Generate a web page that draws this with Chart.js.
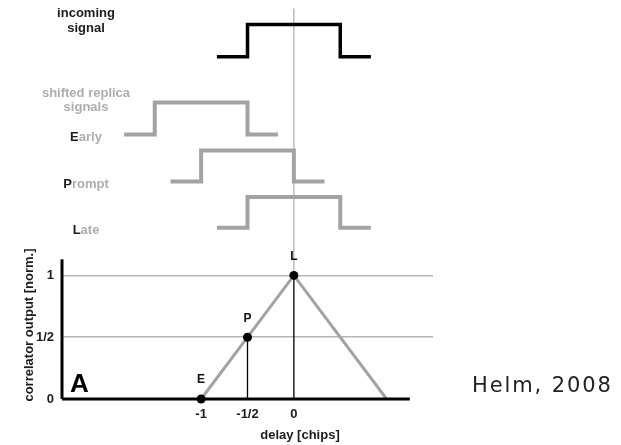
<!DOCTYPE html>
<html>
<head>
<meta charset="utf-8">
<script src="https://cdn.jsdelivr.net/npm/chart.js@4/dist/chart.umd.min.js"></script>
<style>
html,body{margin:0;padding:0;background:#fff;}
#wrap{width:621px;height:445px;position:relative;}
</style>
</head>
<body>
<div id="wrap"><canvas id="c" width="621" height="445"></canvas></div>
<script>
// ---- data ----
const xTickValues = [-1, -0.5, 0];
const xTickLabels = ['-1', '-1/2', '0'];
const yTickValues = [0, 0.5, 1];
const yTickLabels = ['0', '1/2', '1'];

// correlator triangle (delay in chips, normalised output)
const triangleX = [-1, 0, 1];
const triangleY = [0, 1, 0];

// correlator samples E, P, L
const sampleNames = ['E', 'P', 'L'];
const sampleX = [-1, -0.5, 0];
const sampleY = [0, 0.5, 1];

// signal waveforms (x in chips, y in plot units above the correlator)
const incomingX = [-0.83, -0.5, -0.5, 0.5, 0.5, 0.83];
const incomingY = [2.77, 2.77, 3.03, 3.03, 2.77, 2.77];
const earlyX = [-1.83, -1.5, -1.5, -0.5, -0.5, -0.17];
const earlyY = [2.14, 2.14, 2.4, 2.4, 2.14, 2.14];
const promptX = [-1.33, -1.0, -1.0, 0.0, 0.0, 0.33];
const promptY = [1.76, 1.76, 2.01, 2.01, 1.76, 1.76];
const lateX = [-0.83, -0.5, -0.5, 0.5, 0.5, 0.83];
const lateY = [1.385, 1.385, 1.635, 1.635, 1.385, 1.385];

// axis extents and the reference line at zero delay
const xAxisX = [-2.5, 1.25];
const yAxisTop = 1.13;
const refLineTop = 3.16;

const toPts = (xs, ys) => xs.map((x, i) => ({x: x, y: ys[i]}));

const GRAY = '#a3a3a3';
const SANS = '"Liberation Sans", Arial, sans-serif';

const datasets = [
  {label: 'incoming', data: toPts(incomingX, incomingY), borderColor: '#000', borderWidth: 3.5, order: 5},
  {label: 'early', data: toPts(earlyX, earlyY), borderColor: GRAY, borderWidth: 4, order: 5},
  {label: 'prompt', data: toPts(promptX, promptY), borderColor: GRAY, borderWidth: 4, order: 5},
  {label: 'late', data: toPts(lateX, lateY), borderColor: GRAY, borderWidth: 4, order: 5},
  {label: 'ref', data: [{x: 0, y: sampleY[2]}, {x: 0, y: refLineTop}], borderColor: '#9a9a9a', borderWidth: 1, order: 6},
  {label: 'triangle', data: toPts(triangleX, triangleY), borderColor: GRAY, borderWidth: 3, order: 4},
  {label: 'dropP', data: [{x: sampleX[1], y: sampleY[1]}, {x: sampleX[1], y: 0}], borderColor: '#000', borderWidth: 1.3, order: 3},
  {label: 'dropL', data: [{x: sampleX[2], y: sampleY[2]}, {x: sampleX[2], y: 0}], borderColor: '#000', borderWidth: 1.3, order: 3},
  {label: 'xaxis', data: [{x: xAxisX[0], y: 0}, {x: xAxisX[1], y: 0}], borderColor: '#000', borderWidth: 3, order: 2},
  {label: 'yaxis', data: [{x: xAxisX[0], y: 0}, {x: xAxisX[0], y: yAxisTop}], borderColor: '#000', borderWidth: 3, order: 2},
  {label: 'samples', data: toPts(sampleX, sampleY), showLine: false, pointRadius: 4.5, pointBackgroundColor: '#000', pointBorderColor: '#000', pointBorderWidth: 0, order: 1}
];
datasets.forEach(d => {
  d.type = 'line';
  d.fill = false;
  d.clip = false;
  if (d.pointRadius === undefined) d.pointRadius = 0;
  d.tension = 0;
  d.borderCapStyle = 'butt';
  d.borderJoinStyle = 'miter';
});

const textPlugin = {
  id: 'texts',
  afterDatasetsDraw(chart) {
    const ctx = chart.ctx;
    const xs = chart.scales.x, ys = chart.scales.y;
    ctx.save();
    ctx.textBaseline = 'middle';
    ctx.textAlign = 'center';
    ctx.font = 'bold 13px ' + SANS;
    ctx.fillStyle = '#1c1c1c';
    ctx.fillText('incoming', 86, 13);
    ctx.fillText('signal', 86, 28);
    ctx.fillStyle = '#adadad';
    ctx.fillText('shifted replica', 86, 93);
    ctx.fillText('signals', 86, 107);

    // replica labels: first letter dark, rest gray
    const labels = [['E', 'arly', 137], ['P', 'rompt', 184], ['L', 'ate', 230]];
    ctx.textAlign = 'left';
    labels.forEach(([a, b, y]) => {
      const w = ctx.measureText(a + b).width;
      const x0 = 86 - w / 2;
      ctx.fillStyle = '#1c1c1c';
      ctx.fillText(a, x0, y);
      ctx.fillStyle = '#adadad';
      ctx.fillText(b, x0 + ctx.measureText(a).width, y);
    });

    // sample names above the points
    ctx.textAlign = 'center';
    ctx.fillStyle = '#111';
    ctx.font = 'bold 12px ' + SANS;
    sampleNames.forEach((n, i) => {
      ctx.fillText(n, xs.getPixelForValue(sampleX[i]), ys.getPixelForValue(sampleY[i]) - 19);
    });

    // axis titles
    ctx.font = 'bold 13px ' + SANS;
    ctx.fillStyle = '#1c1c1c';
    ctx.fillText('delay [chips]', 300, 435);
    ctx.save();
    ctx.translate(29, 325);
    ctx.rotate(-Math.PI / 2);
    ctx.fillText('correlator output [norm.]', 0, 0);
    ctx.restore();

    // panel letter
    ctx.font = 'bold 26px ' + SANS;
    ctx.fillStyle = '#000';
    ctx.textAlign = 'left';
    ctx.textBaseline = 'alphabetic';
    ctx.fillText('A', 70, 392);

    // citation
    ctx.font = '21px "DejaVu Sans", Verdana, sans-serif';
    ctx.fillStyle = '#222';
    if ('letterSpacing' in ctx) ctx.letterSpacing = '1.9px';
    ctx.fillText('Helm, 2008', 472, 392);
    ctx.restore();
  }
};

new Chart(document.getElementById('c'), {
  type: 'line',
  data: {datasets: datasets},
  options: {
    responsive: false,
    animation: false,
    events: [],
    layout: {padding: {top: 0, right: 188, bottom: 0, left: 0}},
    plugins: {legend: {display: false}, tooltip: {enabled: false}},
    scales: {
      x: {
        type: 'linear',
        min: -2.5,
        max: 1.5,
        afterBuildTicks: s => { s.ticks = xTickValues.map(v => ({value: v})); },
        afterFit: s => { s.height = 46; s.paddingLeft = 0; s.paddingRight = 0; },
        grid: {display: false, drawTicks: false},
        border: {display: false},
        ticks: {
          padding: 8,
          color: '#1c1c1c',
          font: {family: SANS, size: 13, weight: 'bold'},
          maxRotation: 0,
          autoSkip: false,
          callback: (v) => { const i = xTickValues.indexOf(v); return i >= 0 ? xTickLabels[i] : ''; }
        }
      },
      y: {
        type: 'linear',
        min: 0,
        max: 3.192,
        afterBuildTicks: s => { s.ticks = yTickValues.map(v => ({value: v})); },
        afterFit: s => { s.width = 62; s.paddingTop = 0; s.paddingBottom = 0; },
        grid: {
          drawTicks: false,
          lineWidth: 1.5,
          color: (c) => (c.tick && c.tick.value === 0) ? 'rgba(0,0,0,0)' : '#b5b5b5'
        },
        border: {display: false},
        ticks: {
          padding: 8,
          color: '#1c1c1c',
          font: {family: SANS, size: 13, weight: 'bold'},
          autoSkip: false,
          callback: (v) => { const i = yTickValues.indexOf(v); return i >= 0 ? yTickLabels[i] : ''; }
        }
      }
    }
  },
  plugins: [textPlugin]
});
</script>
</body>
</html>
